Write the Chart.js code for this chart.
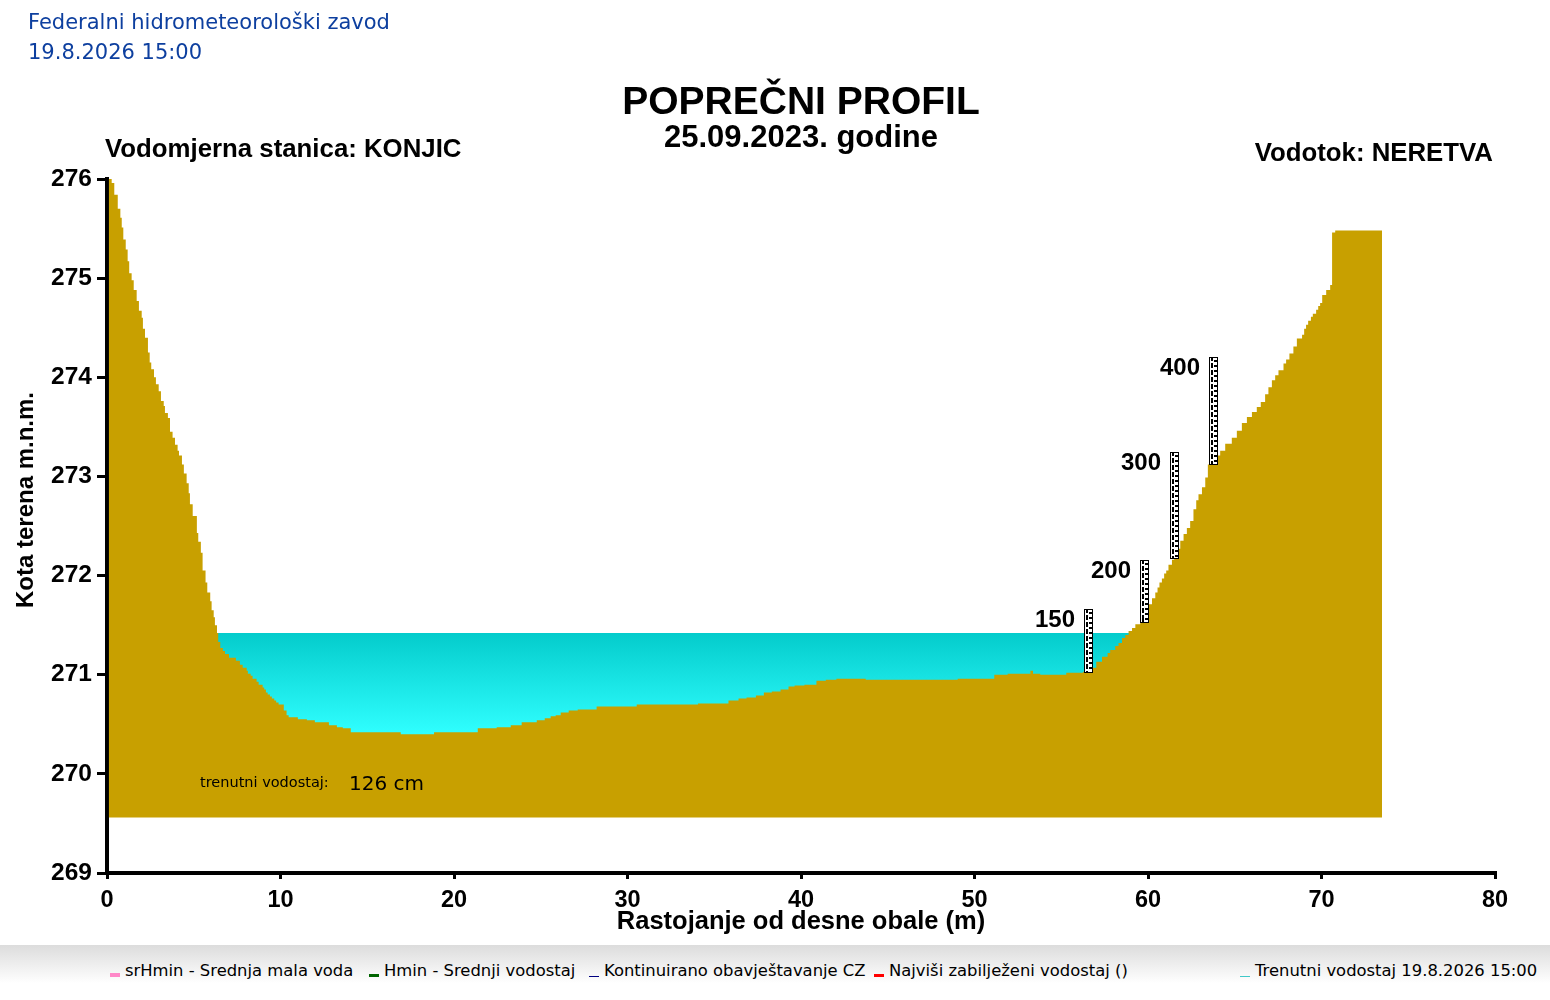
<!DOCTYPE html>
<html>
<head>
<meta charset="utf-8">
<script src="https://cdn.jsdelivr.net/npm/chart.js@4.4.1/dist/chart.umd.min.js"></script>
<style>
  html, body { margin: 0; padding: 0; background: #fff; }
  #wrap { position: relative; width: 1550px; height: 1000px; overflow: hidden; }
  #chart { position: absolute; left: 0; top: 0; }
  .head { position: absolute; left: 28px; top: 7px; font: 21px "DejaVu Sans", Verdana, sans-serif; line-height: 30px; color: #0d3f9f; }
  .band { position: absolute; left: 0; top: 945px; width: 1550px; height: 45px;
          background: linear-gradient(#dcdcdc, #ffffff 85%); }
  .item { position: absolute; top: 961px; font: 16.4px "DejaVu Sans", Verdana, sans-serif; color: #000; white-space: nowrap; }
  .mark { position: absolute; }
</style>
</head>
<body>
<div id="wrap">
  <canvas id="chart" width="1550" height="945"></canvas>
  <div class="head">Federalni hidrometeorološki zavod<br>19.8.2026 15:00</div>
  <div class="band"></div>
  <div id="legend"></div>
</div>
<script>
// cross-section profile (distance m, elevation m.n.m.)
const groundX = [
  0.10, 0.27, 0.42, 0.62, 0.77, 0.85, 0.94, 1.08, 1.19, 1.28, 1.42, 1.54, 1.71, 1.84, 2.00, 2.07,
  2.19, 2.36, 2.46, 2.55, 2.71, 2.82, 2.98, 3.11, 3.27, 3.34, 3.51, 3.63, 3.78, 3.92, 4.07, 4.15,
  4.32, 4.43, 4.59, 4.71, 4.78, 4.94, 5.18, 5.26, 5.41, 5.51, 5.68, 5.78, 5.95, 6.03, 6.15, 6.22,
  6.34, 6.41, 6.53, 6.68, 6.80, 7.03, 7.43, 7.66, 7.82, 8.05, 8.12, 8.28, 8.39, 8.62, 8.74, 8.97,
  9.06, 9.16, 9.26, 9.39, 9.50, 9.64, 9.75, 9.89, 10.19, 10.35, 10.47, 11.00, 11.52, 11.98, 12.79, 13.25,
  13.59, 14.05, 16.93, 18.85, 21.37, 22.46, 23.27, 23.90, 24.77, 25.23, 25.57, 25.86, 26.15, 26.61, 27.13, 28.22,
  30.53, 34.06, 35.82, 36.40, 36.86, 37.40, 37.86, 38.32, 38.82, 39.28, 39.63, 40.20, 40.89, 41.43, 42.04, 43.73,
  49.03, 51.14, 51.91, 53.22, 53.37, 53.79, 55.29, 56.25, 56.79, 57.02, 57.35, 57.67, 57.82, 58.11, 58.30, 58.50,
  58.69, 58.88, 59.08, 59.27, 59.55, 59.84, 60.03, 60.23, 60.42, 60.55, 60.66, 60.80, 60.93, 61.05, 61.18, 61.38,
  61.51, 61.67, 61.86, 62.05, 62.24, 62.43, 62.62, 62.78, 62.91, 63.11, 63.30, 63.45, 63.97, 64.16, 64.45, 64.83,
  65.12, 65.41, 65.70, 65.99, 66.27, 66.50, 66.75, 66.94, 67.14, 67.33, 67.52, 67.81, 67.96, 68.15, 68.38, 68.58,
  68.88, 69.00, 69.11, 69.23, 69.39, 69.50, 69.69, 69.81, 69.92, 70.04, 70.27, 70.50, 70.61, 70.79, 73.49
];
const groundZ = [
  276.00, 275.96, 275.84, 275.70, 275.61, 275.51, 275.39, 275.29, 275.17, 275.05, 274.98, 274.88, 274.77, 274.67, 274.60, 274.49,
  274.40, 274.25, 274.15, 274.08, 274.00, 273.93, 273.86, 273.76, 273.71, 273.64, 273.59, 273.45, 273.39, 273.32, 273.26, 273.21,
  273.12, 273.03, 272.93, 272.83, 272.72, 272.60, 272.43, 272.34, 272.23, 272.05, 271.93, 271.83, 271.74, 271.65, 271.58, 271.50,
  271.42, 271.33, 271.27, 271.24, 271.21, 271.17, 271.14, 271.10, 271.07, 271.04, 271.01, 270.99, 270.96, 270.93, 270.90, 270.87,
  270.85, 270.82, 270.80, 270.78, 270.76, 270.74, 270.72, 270.70, 270.64, 270.59, 270.57, 270.55, 270.54, 270.52, 270.49, 270.47,
  270.46, 270.42, 270.40, 270.42, 270.46, 270.47, 270.49, 270.52, 270.54, 270.56, 270.58, 270.59, 270.62, 270.64, 270.65, 270.68,
  270.70, 270.71, 270.74, 270.76, 270.77, 270.79, 270.82, 270.83, 270.85, 270.88, 270.89, 270.90, 270.94, 270.95, 270.96, 270.95,
  270.96, 271.00, 271.01, 271.04, 271.01, 271.00, 271.02, 271.03, 271.07, 271.13, 271.18, 271.22, 271.25, 271.29, 271.32, 271.37,
  271.40, 271.44, 271.47, 271.51, 271.57, 271.65, 271.71, 271.77, 271.83, 271.88, 271.93, 271.97, 272.02, 272.05, 272.11, 272.16,
  272.21, 272.27, 272.35, 272.42, 272.48, 272.55, 272.67, 272.76, 272.82, 272.89, 272.99, 273.12, 273.21, 273.26, 273.33, 273.39,
  273.46, 273.54, 273.60, 273.65, 273.70, 273.75, 273.83, 273.90, 273.97, 274.02, 274.07, 274.14, 274.18, 274.24, 274.31, 274.39,
  274.43, 274.49, 274.53, 274.57, 274.61, 274.64, 274.68, 274.72, 274.75, 274.83, 274.88, 274.93, 275.46, 275.48, 275.48
];
const groundBase = 269.56;

// water surface
const waterX = [6.3, 59.05];
const waterLevel = 271.42;
const waterBed = 270.35;
const currentLevelCm = 126;

// staff gauges
const gaugeX = [56.53, 59.75, 61.47, 63.73];
const gaugeBottom = [271.02, 271.52, 272.17, 273.12];
const gaugeTop = [271.66, 272.16, 273.25, 274.20];
const gaugeLabels = ['150', '200', '300', '400'];

// axes
const xTicks = [0, 10, 20, 30, 40, 50, 60, 70, 80];
const yTicks = [269, 270, 271, 272, 273, 274, 275, 276];

const legendLabels = [
  'srHmin - Srednja mala voda',
  'Hmin - Srednji vodostaj',
  'Kontinuirano obavještavanje CZ',
  'Najviši zabilježeni vodostaj ()',
  'Trenutni vodostaj 19.8.2026 15:00'
];
const legendColors = ['#ff88c8', '#006400', '#000080', '#ff0000', '#40c8c8'];

const ARIAL = '"Liberation Sans", Arial, sans-serif';

// html legend strip at the bottom
(function() {
  const lefts = [125, 384, 604, 889, 1255];
  const heights = [4, 3, 1, 3, 1];
  const legend = document.getElementById('legend');
  legendLabels.forEach(function(txt, i) {
    const m = document.createElement('div');
    m.className = 'mark';
    m.style.left = (lefts[i] - 15) + 'px';
    m.style.top = (977 - heights[i]) + 'px';
    m.style.width = '10px';
    m.style.height = heights[i] + 'px';
    m.style.background = legendColors[i];
    legend.appendChild(m);
    const t = document.createElement('div');
    t.className = 'item';
    t.style.left = lefts[i] + 'px';
    t.textContent = txt;
    legend.appendChild(t);
  });
})();

const profileDecor = {
  id: 'profileDecor',
  afterDatasetsDraw(chart) {
    const ctx = chart.ctx;
    const xs = chart.scales.x, ys = chart.scales.y;
    ctx.save();
    gaugeX.forEach(function(gx, i) {
      const cx = Math.round(xs.getPixelForValue(gx));
      const top = Math.round(ys.getPixelForValue(gaugeTop[i]));
      const bottom = Math.round(ys.getPixelForValue(gaugeBottom[i]));
      const left = cx - 4;
      const w = 9, h = bottom - top;
      ctx.fillStyle = '#000';
      ctx.fillRect(left, top, w, h);
      ctx.fillStyle = '#fff';
      ctx.fillRect(left + 1, top + 1, w - 2, h - 2);
      // staff markings
      ctx.fillStyle = '#000';
      ctx.fillRect(left + 2, top + 1, 2, h - 2);
      ctx.fillStyle = '#fff';
      for (let y = top + 4; y < bottom - 3; y += 7) {
        ctx.fillRect(left + 2, y, 2, 2);
      }
      ctx.fillStyle = '#000';
      for (let y = top + 3; y < bottom - 2; y += 5) {
        ctx.fillRect(left + 5, y, 3, 2);
      }
      ctx.font = 'bold 24px ' + ARIAL;
      ctx.textAlign = 'right';
      ctx.textBaseline = 'middle';
      ctx.fillText(gaugeLabels[i], left - 9, top + 11);
    });

    // current water level note
    ctx.textAlign = 'left';
    ctx.textBaseline = 'alphabetic';
    ctx.fillStyle = '#000';
    ctx.font = '14.5px "DejaVu Sans", Verdana, sans-serif';
    ctx.fillText('trenutni vodostaj:', chart.chartArea.left + 93, 787);
    ctx.font = '20px "DejaVu Sans", Verdana, sans-serif';
    ctx.fillText(currentLevelCm + ' cm', chart.chartArea.left + 242, 790);
    ctx.restore();
  },
  afterDraw(chart) {
    const ctx = chart.ctx;
    const area = chart.chartArea;
    ctx.save();
    ctx.fillStyle = '#000';
    ctx.font = 'bold 25.8px ' + ARIAL;
    ctx.textBaseline = 'alphabetic';
    ctx.textAlign = 'left';
    ctx.fillText('Vodomjerna stanica: KONJIC', area.left - 2, 157);
    ctx.textAlign = 'right';
    ctx.fillText('Vodotok: NERETVA', area.right - 2, 161);
    // y axis title, sits a bit above the middle of the axis
    ctx.translate(26, 500);
    ctx.rotate(-Math.PI / 2);
    ctx.textAlign = 'center';
    ctx.textBaseline = 'middle';
    ctx.font = 'bold 24px ' + ARIAL;
    ctx.fillText('Kota terena m.n.m.', 0, 0);
    ctx.restore();
  }
};

const ctx = document.getElementById('chart').getContext('2d');
new Chart(ctx, {
  type: 'line',
  data: {
    datasets: [
      {
        label: 'Teren',
        data: groundX.map(function(x, i) { return { x: x, y: groundZ[i] }; }),
        stepped: true,
        borderWidth: 0,
        borderColor: '#c8a000',
        backgroundColor: '#c8a000',
        pointRadius: 0,
        fill: { value: groundBase },
        order: 0
      },
      {
        label: 'Voda',
        data: waterX.map(function(x) { return { x: x, y: waterLevel }; }),
        borderWidth: 0,
        pointRadius: 0,
        fill: { value: waterBed },
        backgroundColor: function(context) {
          const chart = context.chart;
          if (!chart.chartArea) return '#10e0e0';
          const y0 = chart.scales.y.getPixelForValue(waterLevel);
          const y1 = chart.scales.y.getPixelForValue(270.4);
          const g = chart.ctx.createLinearGradient(0, y0, 0, y1);
          g.addColorStop(0, '#04cccc');
          g.addColorStop(1, '#30ffff');
          return g;
        },
        order: 1
      }
    ]
  },
  options: {
    responsive: false,
    animation: false,
    layout: { padding: { left: 0, right: 55, top: 0, bottom: 0 } },
    scales: {
      x: {
        type: 'linear',
        min: 0,
        max: 80,
        afterBuildTicks: function(scale) { scale.ticks = xTicks.map(function(v) { return { value: v }; }); },
        afterFit: function(scale) { scale.height = 72; },
        border: { display: true, color: '#000', width: 4 },
        grid: { drawOnChartArea: false, drawTicks: true, tickLength: 6, tickWidth: 3, tickColor: '#000', lineWidth: 3 },
        ticks: { color: '#000', padding: 7, maxRotation: 0, font: { family: ARIAL, size: 23.5, weight: 'bold' } },
        title: {
          display: true,
          text: 'Rastojanje od desne obale (m)',
          color: '#000',
          font: { family: ARIAL, size: 25.5, weight: 'bold' },
          padding: { top: 0, bottom: 8 }
        }
      },
      y: {
        type: 'linear',
        min: 269,
        max: 276,
        afterBuildTicks: function(scale) { scale.ticks = yTicks.map(function(v) { return { value: v }; }); },
        afterFit: function(scale) { scale.width = 107; },
        border: { display: true, color: '#000', width: 4 },
        grid: { drawOnChartArea: false, drawTicks: true, tickLength: 10, tickWidth: 3, tickColor: '#000', lineWidth: 3 },
        ticks: { color: '#000', padding: 5, font: { family: ARIAL, size: 24.5, weight: 'bold' } },
        title: { display: false }
      }
    },
    plugins: {
      legend: { display: false },
      tooltip: { enabled: false },
      title: {
        display: true,
        fullSize: false,
        text: 'POPREČNI PROFIL',
        color: '#000',
        font: { family: ARIAL, size: 39, weight: 'bold', lineHeight: 1 },
        padding: { top: 84, bottom: 0 }
      },
      subtitle: {
        display: true,
        fullSize: false,
        text: '25.09.2023. godine',
        color: '#000',
        font: { family: ARIAL, size: 31, weight: 'bold', lineHeight: 1 },
        padding: { top: 0, bottom: 25 }
      }
    }
  },
  plugins: [profileDecor]
});
</script>
</body>
</html>
